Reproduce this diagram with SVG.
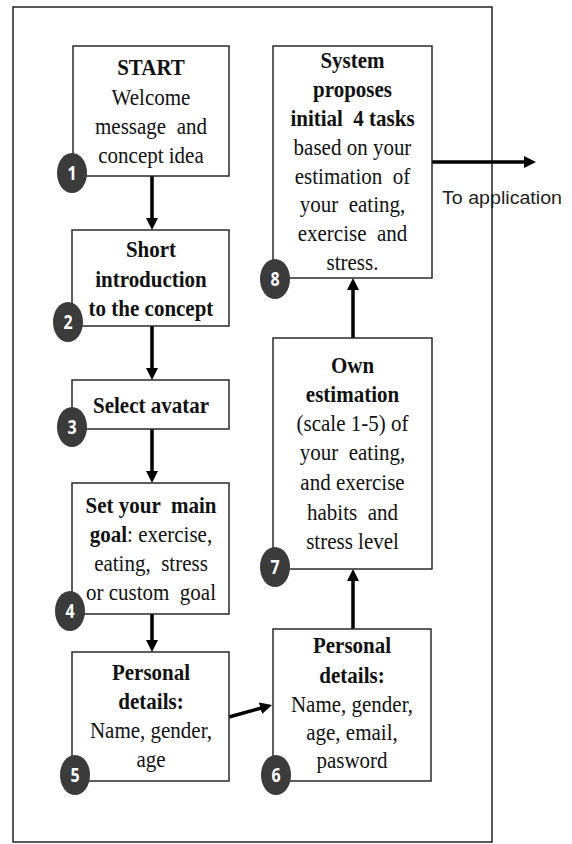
<svg xmlns="http://www.w3.org/2000/svg" width="572" height="844" viewBox="0 0 572 844">
<style>
.box{fill:#fff;stroke:#2a2a2a;stroke-width:1.5}
.t{font-family:"Liberation Serif","Times New Roman",serif;font-size:21px;fill:#111;text-anchor:middle}
.b{font-weight:bold}
.badge{fill:#3b3b3b}
.num{font-family:"Open Sans","Liberation Sans",sans-serif;font-size:16px;font-weight:bold;fill:#fff;text-anchor:middle}
.arr{stroke:#000;stroke-width:3.5;fill:none;marker-end:url(#ah)}
.lbl{font-family:"Liberation Sans",Arial,sans-serif;font-size:17.5px;fill:#222}
</style>
<defs>
<marker id="ah" viewBox="0 0 12 12" refX="2" refY="6" markerWidth="12" markerHeight="12" markerUnits="userSpaceOnUse" orient="auto">
<path d="M0,0 L12,6 L0,12 z" fill="#000"/>
</marker>
</defs>
<rect width="572" height="844" fill="#fff"/>
<rect id="frame" x="13" y="7" width="479" height="835" fill="none" stroke="#222" stroke-width="1.5"/>

<g id="connectors">
<line class="arr" x1="152" y1="176" x2="152" y2="220"/>
<line class="arr" x1="152" y1="326" x2="152" y2="370"/>
<line class="arr" x1="152" y1="429" x2="152" y2="473"/>
<line class="arr" x1="152" y1="614" x2="152" y2="642"/>
<line class="arr" x1="229" y1="717" x2="262.4" y2="707.7"/>
<line class="arr" x1="353" y1="629" x2="353" y2="579"/>
<line class="arr" x1="353" y1="338" x2="353" y2="288"/>
<line class="arr" x1="432" y1="162" x2="526" y2="162"/>
</g>

<g id="n1">
<rect class="box" x="73" y="46" width="156" height="130"/>
<text class="t b" x="151" y="75" transform="matrix(1 0 0 1.08 0 -6)">START</text>
<text class="t" x="151" y="105" transform="matrix(1 0 0 1.08 0 -8.4)">Welcome</text>
<text class="t" x="151" y="134" transform="matrix(1 0 0 1.08 0 -10.72)" xml:space="preserve">message  and</text>
<text class="t" x="151" y="163" transform="matrix(1 0 0 1.08 0 -13.04)">concept idea</text>
<ellipse class="badge" cx="72" cy="173" rx="15" ry="20"/>
<text class="num" x="72" y="180" transform="matrix(1 0 0 1.25 0 -45)">1</text>
</g>

<g id="n2">
<rect class="box" x="72" y="230" width="157" height="96"/>
<text class="t b" x="151" y="257" transform="matrix(1 0 0 1.08 0 -20.56)">Short</text>
<text class="t b" x="151" y="287" transform="matrix(1 0 0 1.08 0 -22.96)">introduction</text>
<text class="t b" x="151" y="316" transform="matrix(1 0 0 1.08 0 -25.28)">to the concept</text>
<ellipse class="badge" cx="68" cy="322" rx="15" ry="20"/>
<text class="num" x="68" y="329" transform="matrix(1 0 0 1.25 0 -82.25)">2</text>
</g>

<g id="n3">
<rect class="box" x="72" y="380" width="157" height="49"/>
<text class="t b" x="151" y="413" transform="matrix(1 0 0 1.08 0 -33.04)">Select avatar</text>
<ellipse class="badge" cx="72" cy="427" rx="15" ry="20"/>
<text class="num" x="72" y="434" transform="matrix(1 0 0 1.25 0 -108.5)">3</text>
</g>

<g id="n4">
<rect class="box" x="72" y="483" width="157" height="131"/>
<text class="t b" x="151" y="513" transform="matrix(1 0 0 1.08 0 -41.04)" xml:space="preserve">Set your  main</text>
<text class="t" x="151" y="542" transform="matrix(1 0 0 1.08 0 -43.36)"><tspan class="b">goal</tspan>: exercise,</text>
<text class="t" x="151" y="571" transform="matrix(1 0 0 1.08 0 -45.68)" xml:space="preserve">eating,  stress</text>
<text class="t" x="151" y="600" transform="matrix(1 0 0 1.08 0 -48)" xml:space="preserve">or custom  goal</text>
<ellipse class="badge" cx="70" cy="611" rx="15" ry="20"/>
<text class="num" x="70" y="618" transform="matrix(1 0 0 1.25 0 -154.5)">4</text>
</g>

<g id="n5">
<rect class="box" x="72" y="652" width="157" height="129"/>
<text class="t b" x="151" y="680" transform="matrix(1 0 0 1.08 0 -54.4)">Personal</text>
<text class="t b" x="151" y="709" transform="matrix(1 0 0 1.08 0 -56.72)">details:</text>
<text class="t" x="151" y="738" transform="matrix(1 0 0 1.08 0 -59.04)">Name, gender,</text>
<text class="t" x="151" y="767" transform="matrix(1 0 0 1.08 0 -61.36)">age</text>
<ellipse class="badge" cx="75" cy="775" rx="15" ry="20"/>
<text class="num" x="75" y="782" transform="matrix(1 0 0 1.25 0 -195.5)">5</text>
</g>

<g id="n6">
<rect class="box" x="273" y="629" width="158" height="152"/>
<text class="t b" x="352" y="653" transform="matrix(1 0 0 1.08 0 -52.24)">Personal</text>
<text class="t b" x="352" y="683" transform="matrix(1 0 0 1.08 0 -54.64)">details:</text>
<text class="t" x="352" y="712" transform="matrix(1 0 0 1.08 0 -56.96)">Name, gender,</text>
<text class="t" x="352" y="740" transform="matrix(1 0 0 1.08 0 -59.2)">age, email,</text>
<text class="t" x="352" y="768" transform="matrix(1 0 0 1.08 0 -61.44)">pasword</text>
<ellipse class="badge" cx="276" cy="775" rx="15" ry="20"/>
<text class="num" x="276" y="782" transform="matrix(1 0 0 1.25 0 -195.5)">6</text>
</g>

<g id="n7">
<rect class="box" x="273" y="338" width="159" height="231"/>
<text class="t b" x="352.5" y="373" transform="matrix(1 0 0 1.08 0 -29.84)">Own</text>
<text class="t b" x="352.5" y="402" transform="matrix(1 0 0 1.08 0 -32.16)">estimation</text>
<text class="t" x="352.5" y="431" transform="matrix(1 0 0 1.08 0 -34.48)">(scale 1-5) of</text>
<text class="t" x="352.5" y="460" transform="matrix(1 0 0 1.08 0 -36.8)" xml:space="preserve">your  eating,</text>
<text class="t" x="352.5" y="490" transform="matrix(1 0 0 1.08 0 -39.2)">and exercise</text>
<text class="t" x="352.5" y="520" transform="matrix(1 0 0 1.08 0 -41.6)" xml:space="preserve">habits  and</text>
<text class="t" x="352.5" y="549" transform="matrix(1 0 0 1.08 0 -43.92)">stress level</text>
<ellipse class="badge" cx="275" cy="567" rx="15" ry="20"/>
<text class="num" x="275" y="574" transform="matrix(1 0 0 1.25 0 -143.5)">7</text>
</g>

<g id="n8">
<rect class="box" x="273" y="46" width="159" height="232"/>
<text class="t b" x="352.5" y="68" transform="matrix(1 0 0 1.08 0 -5.44)">System</text>
<text class="t b" x="352.5" y="97" transform="matrix(1 0 0 1.08 0 -7.76)">proposes</text>
<text class="t b" x="352.5" y="126" transform="matrix(1 0 0 1.08 0 -10.08)" xml:space="preserve">initial  4 tasks</text>
<text class="t" x="352.5" y="155" transform="matrix(1 0 0 1.08 0 -12.4)">based on your</text>
<text class="t" x="352.5" y="184" transform="matrix(1 0 0 1.08 0 -14.72)" xml:space="preserve">estimation  of</text>
<text class="t" x="352.5" y="212" transform="matrix(1 0 0 1.08 0 -16.96)" xml:space="preserve">your  eating,</text>
<text class="t" x="352.5" y="241" transform="matrix(1 0 0 1.08 0 -19.28)" xml:space="preserve">exercise  and</text>
<text class="t" x="352.5" y="270" transform="matrix(1 0 0 1.08 0 -21.6)">stress.</text>
<ellipse class="badge" cx="275" cy="279" rx="15" ry="20"/>
<text class="num" x="275" y="286" transform="matrix(1 0 0 1.25 0 -71.5)">8</text>
</g>

<g id="label">
<text class="lbl" x="442" y="204" textLength="120" lengthAdjust="spacingAndGlyphs">To application</text>
</g>
</svg>
